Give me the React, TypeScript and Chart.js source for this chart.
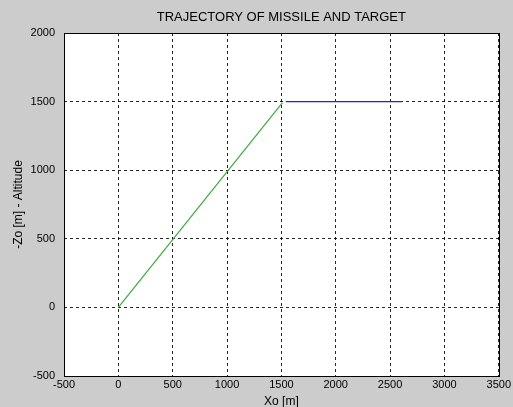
import React, { useEffect, useRef } from "react";
import { Chart, registerables } from "chart.js";

Chart.register(...registerables);

const titleText = "TRAJECTORY OF MISSILE AND TARGET";
const xAxisLabel = "Xo [m]";
const yAxisLabel = "-Zo [m] - Altitude";

const xTickValues = [-500, 0, 500, 1000, 1500, 2000, 2500, 3000, 3500];
const yTickValues = [-500, 0, 500, 1000, 1500, 2000];

const missileX = [0, 1510];
const missileY = [0, 1492];
const targetX = [1540, 2610];
const targetY = [1500, 1500];

const FONT = "'Liberation Sans', Arial, sans-serif";

const frame = {
  id: "frame",
  beforeDraw(chart: any) {
    const { ctx, chartArea } = chart;
    ctx.save();
    ctx.fillStyle = "#ffffff";
    ctx.fillRect(chartArea.left, chartArea.top, chartArea.right - chartArea.left, chartArea.bottom - chartArea.top);
    ctx.restore();
  },
  afterDraw(chart: any) {
    const { ctx, chartArea } = chart;
    ctx.save();
    ctx.strokeStyle = "#000000";
    ctx.lineWidth = 1;
    ctx.strokeRect(
      Math.round(chartArea.left) + 0.5,
      Math.round(chartArea.top) + 0.5,
      Math.round(chartArea.right - chartArea.left),
      Math.round(chartArea.bottom - chartArea.top)
    );
    ctx.restore();
  },
};

const plain = (v: any) => String(v);

export default function App() {
  const ref = useRef<HTMLCanvasElement>(null);
  useEffect(() => {
    if (!ref.current) return;
    const chart = new Chart(ref.current, {
      type: "line",
      data: {
        datasets: [
          {
            label: "Missile",
            data: missileX.map((x, i) => ({ x, y: missileY[i] })),
            borderColor: "rgb(60,170,60)",
            borderWidth: 1.2,
            pointRadius: 0,
            fill: false,
          },
          {
            label: "Target",
            data: targetX.map((x, i) => ({ x, y: targetY[i] })),
            borderColor: "rgb(30,30,255)",
            borderWidth: 1.3,
            pointRadius: 0,
            fill: false,
          },
        ],
      },
      options: {
        animation: false,
        responsive: false,
        events: [],
        layout: { padding: { top: 0, left: 0, right: 14, bottom: 0 } },
        plugins: {
          legend: { display: false },
          tooltip: { enabled: false },
          title: { display: false },
        },
        scales: {
          x: {
            type: "linear",
            min: -500,
            max: 3500,
            afterBuildTicks: (s: any) => {
              s.ticks = xTickValues.map((v) => ({ value: v }));
            },
            afterFit: (s: any) => {
              s.height = 31;
            },
            ticks: {
              color: "#000",
              font: { family: FONT, size: 11 },
              padding: 2,
              maxRotation: 0,
              autoSkip: false,
              callback: plain,
            },
            grid: {
              color: "rgba(0,0,0,0.85)",
              drawTicks: false,
            },
            border: { display: false, dash: [3, 3] },
            title: {
              display: true,
              text: xAxisLabel,
              color: "#000",
              font: { family: FONT, size: 12, lineHeight: 0.9 },
              padding: { top: 0, bottom: 0 },
            },
          },
          xTop: {
            type: "linear",
            position: "top",
            min: -500,
            max: 3500,
            afterFit: (s: any) => {
              s.height = 33;
            },
            ticks: { display: false },
            grid: { display: false, drawTicks: false },
            border: { display: false },
            title: {
              display: true,
              text: titleText,
              color: "#000",
              font: { family: FONT, size: 13, lineHeight: 1.2 },
              padding: { top: 10, bottom: 0 },
            },
          },
          y: {
            type: "linear",
            min: -500,
            max: 2000,
            afterBuildTicks: (s: any) => {
              s.ticks = yTickValues.map((v) => ({ value: v }));
            },
            afterFit: (s: any) => {
              s.width = 64;
            },
            ticks: {
              color: "#000",
              font: { family: FONT, size: 11 },
              padding: 9,
              autoSkip: false,
              callback: plain,
            },
            grid: {
              color: "rgba(0,0,0,0.85)",
              drawTicks: false,
            },
            border: { display: false, dash: [3, 3] },
            title: {
              display: true,
              text: yAxisLabel,
              color: "#000",
              font: { family: FONT, size: 12, lineHeight: 1.2 },
              padding: { top: 11, bottom: 0 },
            },
          },
        },
      } as any,
      plugins: [frame],
    });
    return () => chart.destroy();
  }, []);
  return (
    <div style={{ position: "fixed", left: 0, top: 0, width: 513, height: 407, background: "#cccccc" }}>
      <canvas ref={ref} width={513} height={407} style={{ display: "block" }} />
    </div>
  );
}
